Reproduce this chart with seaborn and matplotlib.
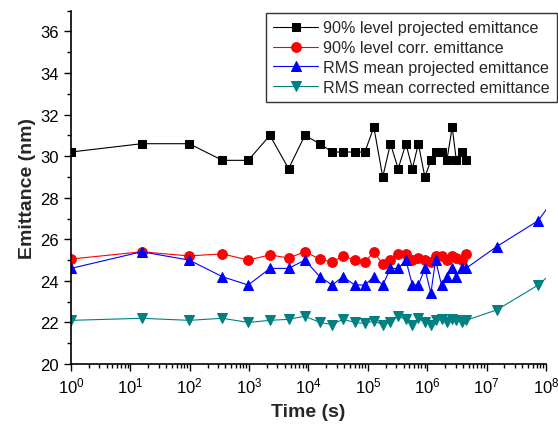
import numpy as np
import pandas as pd
import matplotlib
matplotlib.use("Agg")
import matplotlib.pyplot as plt
from matplotlib.ticker import LogLocator, NullFormatter, MultipleLocator
import seaborn as sns


# ========== DATA ========== #

# measurement times (s), shared by all four series
TIMES = [1, 15.5, 98, 355, 966, 2240, 4620, 8700, 15500, 25100, 38000,
         60300, 89100, 126000, 178000, 240000, 324000, 437000, 562000,
         708000, 912000, 1150000, 1380000, 1740000, 2140000, 2630000,
         3090000, 3800000, 4470000]
# extra late points of the RMS series (last one lies beyond the axis)
TIMES_LATE = [1.48e7, 7.4e7, 2.4e8]

P90_PROJ = [30.2, 30.6, 30.6, 29.8, 29.8, 31.0, 29.4, 31.0, 30.6, 30.2, 30.2,
            30.2, 30.2, 31.4, 29.0, 30.6, 29.4, 30.6, 29.4, 30.6, 29.0,
            29.8, 30.2, 30.2, 29.8, 31.4, 29.8, 30.2, 29.8]
P90_CORR = [25.05, 25.4, 25.2, 25.3, 25.0, 25.25, 25.1, 25.4, 25.05, 24.9,
            25.2, 25.0, 24.9, 25.4, 24.8, 25.0, 25.3, 25.3, 25.0, 25.1, 25.0,
            24.9, 25.2, 25.2, 25.0, 25.2, 25.1, 25.0, 25.3]
RMS_PROJ = [24.6, 25.4, 25.0, 24.2, 23.8, 24.6, 24.6, 25.0, 24.2, 23.8,
            24.2, 23.8, 23.8, 24.2, 23.8, 24.6, 24.6, 25.0, 23.8, 23.8, 24.6,
            23.4, 25.0, 23.8, 24.2, 24.6, 24.2, 24.6, 24.6,
            25.65, 26.9, 28.9]
RMS_CORR = [22.1, 22.2, 22.1, 22.2, 22.0, 22.1, 22.15, 22.3, 22.0, 21.9,
            22.15, 22.0, 21.95, 22.07, 21.9, 22.0, 22.3, 22.15, 21.9, 22.2,
            22.0, 21.9, 22.1, 22.15, 22.0, 22.15, 22.1, 22.0, 22.1,
            22.6, 23.8, 25.1]

LABELS = ["90% level projected emittance", "90% level corr. emittance",
          "RMS mean projected emittance", "RMS mean corrected emittance"]
COLORS = ["black", "#ff0000", "#0000ff", "#008080"]
MARKERS = ["s", "o", "^", "v"]
SIZES = [6, 7, 7.5, 7.5]


# ========== PLOT ========== #

def main():
    sns.set_style("ticks")
    plt.rcParams["font.family"] = ["Liberation Sans", "DejaVu Sans"]
    plt.rcParams["mathtext.fontset"] = "custom"
    plt.rcParams["mathtext.rm"] = "Liberation Sans"

    fig = plt.figure(figsize=(5.58, 4.27), dpi=100)
    ax = fig.add_axes([0.1272, 0.1452, 0.8513, 0.8274])

    series = [
        (TIMES, P90_PROJ),
        (TIMES, P90_CORR),
        (TIMES + TIMES_LATE, RMS_PROJ),
        (TIMES + TIMES_LATE, RMS_CORR),
    ]
    for (t, v), lab, col, mk, ms in zip(series, LABELS, COLORS, MARKERS, SIZES):
        df = pd.DataFrame({"t": t, "v": v})
        sns.lineplot(data=df, x="t", y="v", ax=ax, color=col, marker=mk,
                     markersize=ms, markeredgecolor=col, linewidth=0.8,
                     label=lab, sort=False)

    ax.set_xscale("log")
    ax.set_xlim(1, 1e8)
    ax.set_ylim(20, 37)
    ax.xaxis.set_major_locator(LogLocator(base=10, numticks=20))
    ax.xaxis.set_minor_locator(LogLocator(base=10, subs=np.arange(2, 10), numticks=100))
    ax.xaxis.set_minor_formatter(NullFormatter())
    ax.set_yticks(np.arange(20, 37, 2))
    ax.yaxis.set_minor_locator(MultipleLocator(1))

    ax.tick_params(which="major", direction="out", length=5, width=1,
                   labelsize=12, color="black", labelcolor="black")
    ax.tick_params(which="minor", direction="out", length=3, width=1,
                   color="black")
    for s in ["left", "bottom"]:
        ax.spines[s].set_color("black")
        ax.spines[s].set_linewidth(1.2)
    sns.despine(ax=ax)

    ax.set_xlabel("Time (s)", fontsize=14, fontweight="bold", labelpad=5)
    ax.set_ylabel("Emittance (nm)", fontsize=14, fontweight="bold", labelpad=3)

    leg = ax.legend(loc="upper right", bbox_to_anchor=(0.998, 0.967),
                    bbox_transform=fig.transFigure, fontsize=11.6,
                    frameon=True, fancybox=False, handlelength=2.8,
                    handletextpad=0.3, borderpad=0.45, labelspacing=0.3,
                    borderaxespad=0)
    leg.get_frame().set_edgecolor("black")
    leg.get_frame().set_linewidth(1)

    fig.savefig("out.png", dpi=100)
    plt.close(fig)


if __name__ == "__main__":
    main()
